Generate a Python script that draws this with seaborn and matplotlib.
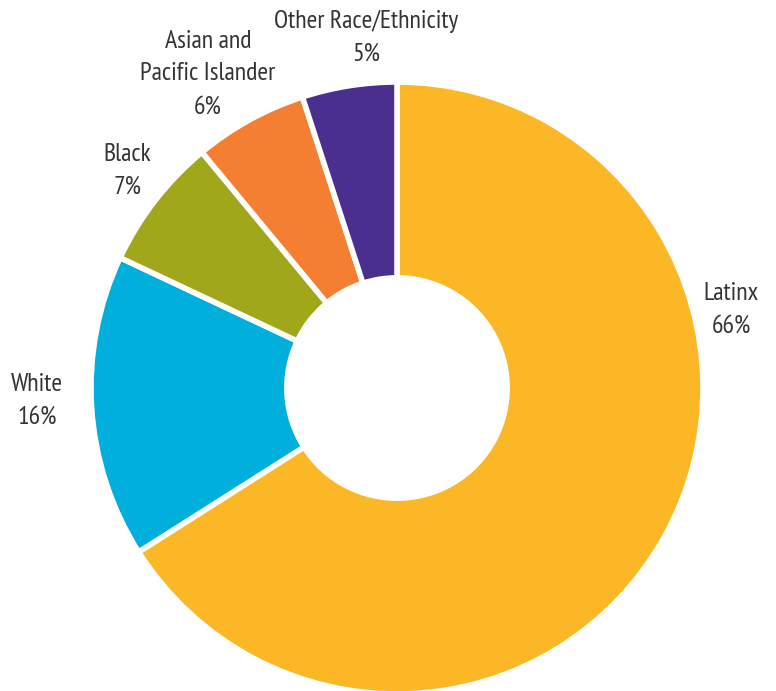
import matplotlib
matplotlib.use("Agg")
import matplotlib.pyplot as plt
import seaborn as sns

categories = ["Latinx", "White", "Black", "Asian and\nPacific Islander", "Other Race/Ethnicity"]
shares = [66, 16, 7, 6, 5]
pct_labels = ["66%", "16%", "7%", "6%", "5%"]
colors = ["#FBB726", "#00AFDB", "#A0A71A", "#F47F33", "#4A2F8F"]

# label centres in pixel coordinates (layout only)
label_px = [(731, 310), (37, 401), (127, 171), (208, 74), (366, 38)]

sns.set_theme(style="white")
plt.rcParams["font.family"] = ["PT Sans Narrow", "DejaVu Sans"]

W, H = 776, 691
fig = plt.figure(figsize=(W / 100, H / 100), dpi=100)
ax = fig.add_axes([0, 0, 1, 1])

cx, cy, R = 397, 388, 306
ax.pie(shares, colors=sns.color_palette(colors), startangle=90, counterclock=False,
       radius=1.0, wedgeprops=dict(width=0.64, edgecolor="white", linewidth=4))

ax.set_xlim(-cx / R, (W - cx) / R)
ax.set_ylim(-(H - cy) / R, cy / R)
ax.set_aspect("equal")
ax.axis("off")

for cat, pct, (px, py) in zip(categories, pct_labels, label_px):
    ax.text(px / W, 1 - py / H, f"{cat}\n{pct}", transform=ax.transAxes,
            ha="center", va="center", fontsize=18.5, color="#333333", linespacing=1.55)

fig.savefig("out.png", dpi=100)
